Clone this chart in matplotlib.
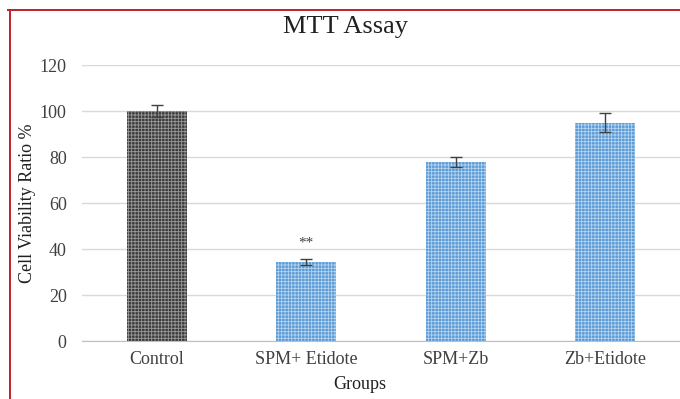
import matplotlib.pyplot as plt
from matplotlib.lines import Line2D

groups = ["Control", "SPM+ Etidote", "SPM+Zb", "Zb+Etidote"]
viability = [100, 34.5, 78, 95]
errors = [2.8, 1.2, 2.2, 4.0]
marks = ["", "**", "", ""]

face_colors = ["#3c3c3c", "#5b9bd5", "#5b9bd5", "#5b9bd5"]
hatch_colors = ["#9a9a9a", "#b4d4f2", "#b4d4f2", "#b4d4f2"]

plt.rcParams["font.family"] = ["Liberation Serif", "DejaVu Serif"]
plt.rcParams["hatch.linewidth"] = 0.6

fig = plt.figure(figsize=(6.8, 3.99), dpi=100)
ax = fig.add_axes([0.1206, 0.145, 0.8794, 0.692])

x = range(len(groups))
for i in x:
    ax.bar(i, viability[i], width=0.4, color=face_colors[i],
           edgecolor=hatch_colors[i], hatch="+++++", linewidth=0, zorder=2)
ax.errorbar(list(x), viability, yerr=errors, fmt="none", ecolor="#404040",
            elinewidth=1.0, capsize=4.5, capthick=1.0, zorder=3)

for i, m in enumerate(marks):
    if m:
        ax.text(i, viability[i] + errors[i] + 7, m, ha="center", va="center",
                fontsize=11, color="#404040")

ax.set_xlim(-0.5, 3.5)
ax.set_ylim(0, 120)
ax.set_yticks(range(0, 121, 20))
ax.set_xticks(list(x))
ax.set_xticklabels(groups)
ax.yaxis.grid(True, color="#d9d9d9", linewidth=1.0, zorder=0)
ax.set_axisbelow(True)
for side in ["top", "right", "left"]:
    ax.spines[side].set_visible(False)
ax.spines["bottom"].set_color("#bfbfbf")
ax.tick_params(length=0, labelsize=13, colors="#404040")
ax.tick_params(axis="y", pad=11)
ax.tick_params(axis="x", pad=7)

ax.set_ylabel("Cell Viability Ratio %", fontsize=13, color="#202020")
ax.yaxis.set_label_coords(-0.077, 0.5)
ax.set_xlabel("Groups", fontsize=13, color="#202020")
ax.xaxis.set_label_coords(0.465, -0.125)
fig.text(0.508, 0.932, "MTT Assay", ha="center", va="center", fontsize=19, color="#202020")

# thin red frame along the top and left edges
fig.add_artist(Line2D([0.012, 1.0], [0.975, 0.975], color="#c0202a", linewidth=1.4))
fig.add_artist(Line2D([0.0145, 0.0145], [0.0, 0.975], color="#c0202a", linewidth=1.4))

fig.savefig("out.png", dpi=100)
